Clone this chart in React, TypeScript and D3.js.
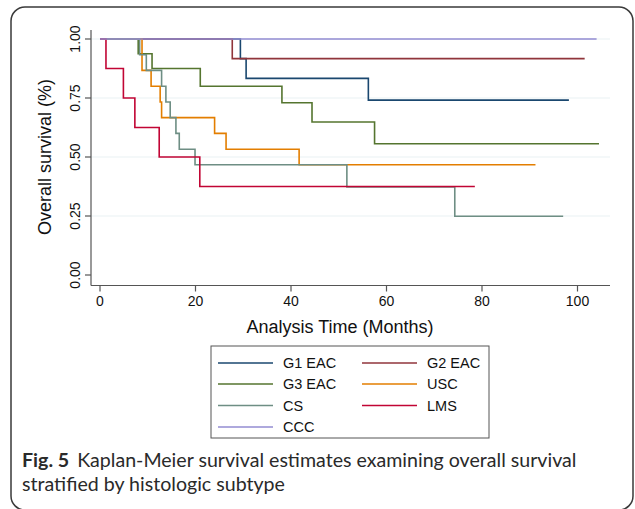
import React from 'react';
import * as d3 from 'd3';

// step points (time in months, survival probability)
const g1Times = [0, 29.4, 30.6, 56.2, 98.2];
const g1Surv = [1, 0.917, 0.833, 0.741, 0.741];

const g2Times = [0, 27.7, 101.5];
const g2Surv = [1, 0.917, 0.917];

const g3Times = [0, 8.0, 10.9, 21.0, 38.1, 44.4, 57.5, 104.5];
const g3Surv = [1, 0.9375, 0.875, 0.8, 0.73, 0.648, 0.556, 0.556];

const uscTimes = [0, 8.8, 10.7, 12.6, 12.9, 24.0, 26.4, 41.7, 91.2];
const uscSurv = [1, 0.867, 0.8, 0.733, 0.667, 0.6, 0.533, 0.467, 0.467];

const csTimes = [0, 8.3, 9.7, 12.9, 13.8, 14.7, 15.9, 16.6, 19.9, 51.7, 74.3, 97.0];
const csSurv = [1, 0.933, 0.867, 0.8, 0.733, 0.667, 0.6, 0.533, 0.467, 0.373, 0.249, 0.249];

const lmsTimes = [0, 1.25, 4.9, 7.3, 12.4, 20.9, 78.5];
const lmsSurv = [1, 0.875, 0.75, 0.625, 0.5, 0.375, 0.375];

const cccTimes = [0, 104];
const cccSurv = [1, 1];

const groupNames = ['G1 EAC', 'G2 EAC', 'G3 EAC', 'USC', 'CS', 'LMS', 'CCC'];
const groupColors = ['#1a476f', '#90353b', '#55752f', '#e37e00', '#6e8e84', '#c10534', '#938dd2'];
const groupTimes = [g1Times, g2Times, g3Times, uscTimes, csTimes, lmsTimes, cccTimes];
const groupSurv = [g1Surv, g2Surv, g3Surv, uscSurv, csSurv, lmsSurv, cccSurv];

const xTicks = [0, 20, 40, 60, 80, 100];
const yTicks = [0, 0.25, 0.5, 0.75, 1];
const gridTicks = [0.25, 0.5, 0.75, 1];

const chartFont = '"Liberation Sans", Arial, sans-serif';
const captionFont = 'Lato, "Open Sans", sans-serif';

export default function App() {
  const x = d3.scaleLinear().domain([0, 100]).range([100, 577.5]);
  const y = d3.scaleLinear().domain([0, 1]).range([275, 39]);

  const line = d3
    .line<[number, number]>()
    .x(d => x(d[0]))
    .y(d => y(d[1]))
    .curve(d3.curveStepAfter);

  const axisLeft = 91;
  const axisBottom = 285.5;
  const plotRight = 610;

  // legend layout: two columns, rows filled left to right
  const legendRows = [363, 384, 405.5, 427];
  const legendCols = [218, 362];

  return (
    <>
      <style>{'body{margin:0}'}</style>
      <svg width={635} height={509} style={{ display: 'block' }}>
        <rect x={0} y={0} width={635} height={509} fill="#fff" />
        <rect x={11} y={7} width={622} height={503} rx={14} fill="none" stroke="#3a3a3a" strokeWidth={1.5} />

        {/* grid */}
        {gridTicks.map(t => (
          <line key={t} x1={axisLeft} x2={plotRight} y1={y(t)} y2={y(t)} stroke="#eaf2f3" strokeWidth={1.2} />
        ))}

        {/* axes */}
        <line x1={axisLeft} x2={axisLeft} y1={30} y2={axisBottom} stroke="#555" strokeWidth={1.2} />
        <line x1={axisLeft} x2={plotRight} y1={axisBottom} y2={axisBottom} stroke="#555" strokeWidth={1.2} />

        {yTicks.map(t => (
          <g key={t}>
            <line x1={axisLeft - 6} x2={axisLeft} y1={y(t)} y2={y(t)} stroke="#555" strokeWidth={1.2} />
            <text
              transform={`translate(80,${y(t)}) rotate(-90)`}
              textAnchor="middle"
              fontFamily={chartFont}
              fontSize={14}
              fill="#111"
            >
              {d3.format('.2f')(t)}
            </text>
          </g>
        ))}

        {xTicks.map(t => (
          <g key={t}>
            <line x1={x(t)} x2={x(t)} y1={axisBottom} y2={axisBottom + 6} stroke="#555" strokeWidth={1.2} />
            <text x={x(t)} y={306} textAnchor="middle" fontFamily={chartFont} fontSize={14} fill="#111">
              {t}
            </text>
          </g>
        ))}

        <text transform="translate(51,157) rotate(-90)" textAnchor="middle" fontFamily={chartFont} fontSize={18} fill="#111">
          Overall survival (%)
        </text>
        <text x={340} y={333} textAnchor="middle" fontFamily={chartFont} fontSize={18} fill="#111">
          Analysis Time (Months)
        </text>

        {/* survival curves */}
        {groupNames.map((name, i) => {
          const pts = groupTimes[i].map((t, j) => [t, groupSurv[i][j]] as [number, number]);
          return (
            <path key={name} d={line(pts) || ''} fill="none" stroke={groupColors[i]} strokeWidth={1.6} />
          );
        })}

        {/* legend */}
        <rect x={211} y={346} width={278} height={92} fill="#fff" stroke="#555" strokeWidth={1} />
        {groupNames.map((name, i) => {
          const row = Math.floor(i / 2);
          const col = i % 2;
          const lx = legendCols[col];
          const ly = legendRows[row];
          return (
            <g key={name}>
              <line x1={lx} x2={lx + 55} y1={ly} y2={ly} stroke={groupColors[i]} strokeWidth={1.4} />
              <text x={lx + 65} y={ly + 5} fontFamily={chartFont} fontSize={14.5} fill="#111">
                {name}
              </text>
            </g>
          );
        })}

        {/* caption */}
        <text x={22} y={467} fontFamily={captionFont} fontSize={19.6} fill="#2a2a2a">
          <tspan fontWeight="bold">Fig. 5</tspan>
          <tspan dx={8}>Kaplan-Meier survival estimates examining overall survival</tspan>
        </text>
        <text x={22} y={491} fontFamily={captionFont} fontSize={19.6} fill="#2a2a2a">
          stratified by histologic subtype
        </text>
      </svg>
    </>
  );
}
